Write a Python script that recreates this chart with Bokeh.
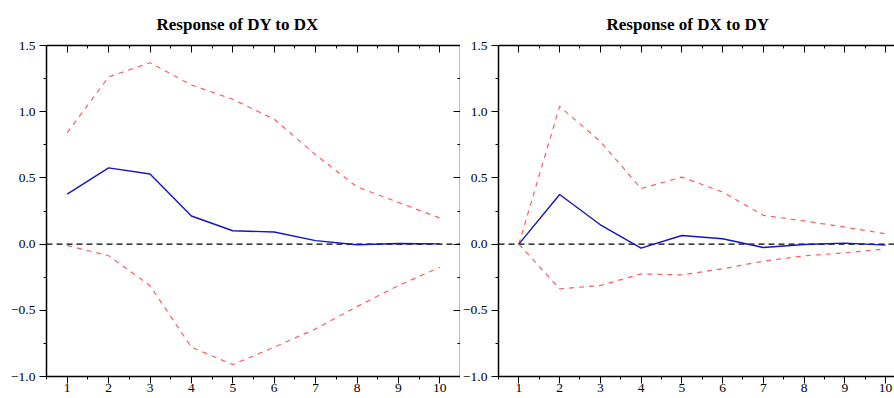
from bokeh.plotting import figure
from bokeh.layouts import row
from bokeh.models import (Range1d, LinearAxis, SingleIntervalTicker, Span,
                          CustomJSTickFormatter, Title)
from bokeh.embed import file_html
from bokeh.resources import INLINE

# ---------------- data ----------------
periods = [1, 2, 3, 4, 5, 6, 7, 8, 9, 10]

# Response of DY to DX
dy_dx_resp = [0.378, 0.576, 0.529, 0.212, 0.101, 0.091, 0.026, -0.005, 0.005, 0.002]
dy_dx_upper = [0.842, 1.262, 1.370, 1.202, 1.094, 0.943, 0.675, 0.432, 0.315, 0.197]
dy_dx_lower = [-0.010, -0.088, -0.314, -0.779, -0.910, -0.779, -0.640, -0.472, -0.314, -0.175]

# Response of DX to DY
dx_dy_resp = [0.0, 0.375, 0.146, -0.031, 0.065, 0.040, -0.026, -0.003, 0.007, -0.008]
dx_dy_upper = [0.0, 1.040, 0.775, 0.419, 0.506, 0.393, 0.217, 0.175, 0.128, 0.078]
dx_dy_lower = [0.0, -0.338, -0.313, -0.225, -0.233, -0.187, -0.129, -0.089, -0.066, -0.036]

titles = ["Response of DY to DX", "Response of DX to DY"]

FONT = "Liberation Serif"
BLUE = "#1414c4"
RED = "#ff5c5c"

fmt = CustomJSTickFormatter(code="return tick.toFixed(1).replace('-', '\\u2212')")
blank = CustomJSTickFormatter(code="return ''")


def style_axis(ax, inward, standoff=3):
    ax.axis_line_color = "black"
    ax.axis_line_width = 1.5
    ax.major_tick_line_color = "black"
    ax.minor_tick_line_color = "black"
    ax.major_tick_line_width = 1
    ax.minor_tick_line_width = 1
    if inward:
        ax.major_tick_in = 7
        ax.major_tick_out = 0
        ax.minor_tick_in = 3
        ax.minor_tick_out = 0
        ax.formatter = blank
        ax.major_label_text_font_size = "1px"
        ax.major_label_standoff = 0
    else:
        ax.major_tick_in = 0
        ax.major_tick_out = 7
        ax.minor_tick_in = 0
        ax.minor_tick_out = 3
        ax.major_label_text_font = FONT
        ax.major_label_text_font_size = "13.5px"
        ax.major_label_text_color = "black"
        ax.major_label_standoff = standoff


def make_panel(title, resp, upper, lower, width, border_left, x_end, right_axis, title_offset):
    p = figure(width=width, height=398, output_backend="svg", toolbar_location=None,
               x_range=Range1d(0.5, x_end), y_range=Range1d(-1.0, 1.5),
               x_axis_type=None, y_axis_type=None,
               min_border_left=border_left, min_border_right=0, min_border_top=45,
               min_border_bottom=22)
    p.outline_line_color = None
    p.xgrid.visible = False
    p.ygrid.visible = False
    p.background_fill_color = "white"
    p.border_fill_color = "white"

    xt = SingleIntervalTicker(interval=1, num_minor_ticks=2)
    yt = SingleIntervalTicker(interval=0.5, num_minor_ticks=2)

    bottom = LinearAxis(ticker=xt)
    style_axis(bottom, False, standoff=0)
    p.add_layout(bottom, "below")
    left = LinearAxis(ticker=yt, formatter=fmt)
    style_axis(left, False, standoff=4)
    p.add_layout(left, "left")
    top = LinearAxis(ticker=xt)
    style_axis(top, True)
    p.add_layout(top, "above")
    if right_axis:
        right = LinearAxis(ticker=yt)
        style_axis(right, True)
        p.add_layout(right, "right")

    t = Title(text=title, align="left", offset=title_offset, text_font=FONT,
              text_font_size="17px", text_font_style="bold", text_color="black",
              standoff=23)
    p.add_layout(t, "above")

    zero = Span(location=0, dimension="width", line_color="black",
                line_dash="6 4", line_width=1.2, level="underlay")
    p.add_layout(zero)

    p.line(periods, upper, line_color=RED, line_dash="5 5", line_width=1.2)
    p.line(periods, lower, line_color=RED, line_dash="5 5", line_width=1.2)
    p.line(periods, resp, line_color=BLUE, line_width=1.4)
    return p


p1 = make_panel(titles[0], dy_dx_resp, dy_dx_upper, dy_dx_lower, 460, 46, 10.5, True, 110)
p2 = make_panel(titles[1], dx_dy_resp, dx_dy_upper, dx_dy_lower, 434, 38, 10.22, False, 108)

layout = row(p1, p2)
layout.spacing = 0
open("out.html", "w").write(file_html(layout, INLINE))
